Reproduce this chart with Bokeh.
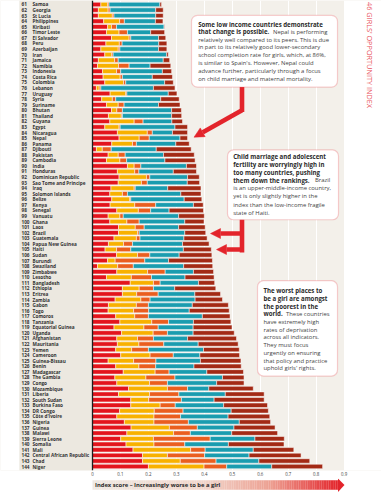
import math
from bokeh.plotting import figure
from bokeh.models import (ColumnDataSource, Range1d, FixedTicker, BoxAnnotation, Label,
                          Arrow, NormalHead, Span)
from bokeh.layouts import column
from bokeh.embed import file_html
from bokeh.resources import INLINE
from bokeh.core.properties import value

# ---------------- data ----------------
ranks = [61, 62, 63, 64, 65, 66, 67, 68, 69, 70, 71, 72, 73, 74, 75, 76, 77, 78, 79, 80,
         81, 82, 83, 84, 85, 86, 87, 88, 89, 90, 91, 92, 93, 94, 95, 96, 97, 98, 99, 100,
         101, 102, 103, 104, 105, 106, 107, 108, 109, 110, 111, 112, 113, 114, 115, 116,
         117, 118, 119, 120, 121, 122, 123, 124, 125, 126, 127, 128, 129, 130, 131, 132,
         133, 134, 135, 136, 137, 138, 139, 140, 141, 142, 143, 144]

countries = ["Samoa", "Georgia", "St Lucia", "Philippines", "Kiribati", "Timor Leste",
             "El Salvador", "Peru", "Azerbaijan", "Iran", "Jamaica", "Namibia", "Indonesia",
             "Costa Rica", "Colombia", "Lebanon", "Uruguay", "Syria", "Suriname", "Bhutan",
             "Thailand", "Guyana", "Egypt", "Nicaragua", "Nepal", "Panama", "Djibouti",
             "Pakistan", "Cambodia", "India", "Honduras", "Dominican Republic",
             "Sao Tome and Principe", "Iraq", "Solomon Islands", "Belize", "Kenya", "Senegal",
             "Vanuatu", "Ghana", "Laos", "Brazil", "Guatemala", "Papua New Guinea", "Haiti",
             "Sudan", "Burundi", "Swaziland", "Zimbabwe", "Lesotho", "Bangladesh", "Ethiopia",
             "Eritrea", "Zambia", "Gabon", "Togo", "Comoros", "Tanzania", "Equatorial Guinea",
             "Uganda", "Afghanistan", "Mauritania", "Yemen", "Cameroon", "Guinea-Bissau",
             "Benin", "Madagascar", "The Gambia", "Congo", "Mozambique", "Liberia",
             "South Sudan", "Burkina Faso", "DR Congo", "Côte d'Ivoire", "Nigeria", "Guinea",
             "Malawi", "Sierra Leone", "Somalia", "Mali", "Central African Republic", "Chad",
             "Niger"]

child_marriage = [0.030, 0.021, 0.021, 0.040, 0.054, 0.050, 0.068, 0.048, 0.030, 0.044,
                  0.021, 0.018, 0.036, 0.038, 0.044, 0.014, 0.063, 0.033, 0.050, 0.068,
                  0.057, 0.062, 0.044, 0.089, 0.095, 0.069, 0.014, 0.056, 0.050, 0.125,
                  0.089, 0.095, 0.092, 0.066, 0.062, 0.069, 0.063, 0.087, 0.056, 0.062,
                  0.093, 0.093, 0.077, 0.057, 0.045, 0.086, 0.054, 0.018, 0.087, 0.050,
                  0.135, 0.107, 0.107, 0.081, 0.057, 0.056, 0.083, 0.098, 0.077, 0.104,
                  0.087, 0.089, 0.083, 0.101, 0.056, 0.083, 0.110, 0.080, 0.087, 0.129,
                  0.093, 0.137, 0.137, 0.097, 0.087, 0.114, 0.138, 0.123, 0.101, 0.120,
                  0.145, 0.179, 0.179, 0.200]

adolescent_fertility = [0.024, 0.035, 0.050, 0.057, 0.014, 0.045, 0.063, 0.048, 0.062, 0.025,
                        0.058, 0.075, 0.050, 0.061, 0.067, 0.010, 0.056, 0.038, 0.042, 0.019,
                        0.046, 0.087, 0.051, 0.107, 0.072, 0.074, 0.021, 0.036, 0.048, 0.024,
                        0.062, 0.098, 0.083, 0.083, 0.045, 0.064, 0.088, 0.077, 0.042, 0.061,
                        0.060, 0.068, 0.080, 0.054, 0.041, 0.075, 0.027, 0.072, 0.110, 0.089,
                        0.083, 0.060, 0.051, 0.092, 0.100, 0.091, 0.068, 0.114, 0.107, 0.113,
                        0.074, 0.077, 0.057, 0.105, 0.091, 0.083, 0.114, 0.111, 0.117, 0.139,
                        0.111, 0.064, 0.105, 0.124, 0.133, 0.106, 0.137, 0.167, 0.117, 0.100,
                        0.206, 0.089, 0.135, 0.199]

maternal_mortality = [0.005, 0.007, 0.006, 0.017, 0.018, 0.030, 0.006, 0.010, 0.006, 0.005,
                      0.013, 0.038, 0.015, 0.008, 0.008, 0.006, 0.004, 0.012, 0.021, 0.020,
                      0.004, 0.032, 0.004, 0.018, 0.036, 0.014, 0.032, 0.025, 0.024, 0.024,
                      0.015, 0.012, 0.021, 0.004, 0.018, 0.004, 0.075, 0.044, 0.012, 0.044,
                      0.032, 0.006, 0.013, 0.032, 0.051, 0.044, 0.106, 0.056, 0.063, 0.072,
                      0.024, 0.051, 0.077, 0.033, 0.043, 0.054, 0.049, 0.060, 0.051, 0.051,
                      0.057, 0.089, 0.060, 0.083, 0.080, 0.060, 0.050, 0.104, 0.064, 0.072,
                      0.105, 0.117, 0.054, 0.103, 0.095, 0.123, 0.100, 0.060, 0.203, 0.110,
                      0.052, 0.133, 0.128, 0.081]

women_in_parliament = [0.182, 0.163, 0.149, 0.111, 0.170, 0.083, 0.099, 0.131, 0.138, 0.191,
                       0.161, 0.075, 0.149, 0.107, 0.139, 0.188, 0.148, 0.161, 0.123, 0.176,
                       0.176, 0.103, 0.196, 0.072, 0.110, 0.141, 0.161, 0.137, 0.137, 0.163,
                       0.123, 0.135, 0.143, 0.116, 0.191, 0.191, 0.135, 0.066, 0.198, 0.163,
                       0.123, 0.163, 0.157, 0.179, 0.188, 0.105, 0.085, 0.180, 0.101, 0.120,
                       0.137, 0.076, 0.131, 0.161, 0.157, 0.145, 0.193, 0.089, 0.125, 0.092,
                       0.122, 0.123, 0.197, 0.095, 0.159, 0.137, 0.135, 0.170, 0.176, 0.076,
                       0.166, 0.117, 0.173, 0.172, 0.170, 0.182, 0.131, 0.148, 0.160, 0.156,
                       0.172, 0.159, 0.153, 0.161]

secondary_not_completed = [0.006, 0.027, 0.027, 0.027, 0.002, 0.050, 0.026, 0.029, 0.030, 0.006,
                           0.023, 0.074, 0.033, 0.072, 0.031, 0.077, 0.031, 0.066, 0.077, 0.035,
                           0.036, 0.038, 0.045, 0.054, 0.027, 0.048, 0.125, 0.110, 0.108, 0.036,
                           0.083, 0.042, 0.044, 0.119, 0.072, 0.063, 0.035, 0.123, 0.092, 0.069,
                           0.095, 0.075, 0.083, 0.095, 0.100, 0.117, 0.157, 0.104, 0.072, 0.104,
                           0.058, 0.147, 0.092, 0.098, 0.129, 0.143, 0.099, 0.134, 0.139, 0.147,
                           0.175, 0.143, 0.128, 0.142, 0.145, 0.169, 0.131, 0.077, 0.098, 0.159,
                           0.139, 0.179, 0.157, 0.133, 0.149, 0.112, 0.147, 0.164, 0.105, 0.199,
                           0.145, 0.186, 0.182, 0.182]

tick_values = [0, 0.1, 0.2, 0.3, 0.4, 0.5, 0.6, 0.7, 0.8, 0.9]
tick_labels = ["0", "0.1", "0.2", "0.3", "0.4", "0.5", "0.6", "0.7", "0.8", "0.9"]

# ---------------- styling ----------------
RED = "#e3141c"
YELLOW = "#f8b100"
ORANGE = "#ea5e1f"
TEAL = "#1a9caf"
DKRED = "#a32a15"
ARROW = "#e3242b"
BOX_LINE = "#e85d65"
PINK_TXT = "#e9525d"
BEIGE = "#f3f0ea"
BEIGE_LBL = "#ece8e0"
TXT = "#333333"
FONT = "Open Sans"

PX = 279.6            # pixels per index unit
W, H1, H2 = 381, 478, 14


def xd(px):            # page-pixel x of the reference -> data x
    return (px - 100.0) / PX


def yr(py):            # reference page-pixel y -> rank coordinate
    return 61 + (py - 4.0) / 5.663


x_left = (8 - 100.0) / PX
x_right = x_left + W / PX

src = ColumnDataSource(dict(
    rank=ranks,
    rank_str=[str(r) for r in ranks],
    country=countries,
    cm=child_marriage,
    af=adolescent_fertility,
    mm=maternal_mortality,
    wp=women_in_parliament,
    sn=secondary_not_completed,
))

p = figure(width=W, height=H1, x_range=Range1d(x_left, x_right),
           y_range=Range1d(144.7186, 60.2814),
           output_backend="svg", toolbar_location=None, y_axis_location=None,
           min_border_left=0, min_border_right=0, min_border_top=0, min_border_bottom=8)
p.background_fill_color = BEIGE
p.border_fill_color = "white"
p.outline_line_color = None
p.ygrid.visible = False
p.xgrid.ticker = FixedTicker(ticks=tick_values[1:])
p.xgrid.grid_line_color = "white"
p.xgrid.grid_line_width = 1

ax = p.xaxis[0]
ax.ticker = FixedTicker(ticks=tick_values)
ax.major_label_overrides = {v: s for v, s in zip(tick_values, tick_labels)}
ax.axis_line_color = None
ax.major_tick_line_color = None
ax.minor_tick_line_color = None
ax.major_tick_out = 0
ax.major_tick_in = 0
ax.major_label_standoff = 1
ax.major_label_text_font = FONT
ax.major_label_text_font_size = "4.4px"
ax.major_label_text_color = "#444444"

# white margins and label column
p.quad(left=[x_left, xd(352.5)], right=[xd(27), x_right], bottom=[144.7186] * 2,
       top=[60.2814] * 2, fill_color="white", line_color=None)
p.quad(left=[xd(27)], right=[0], bottom=[144.7186], top=[60.2814],
       fill_color=BEIGE_LBL, line_color=None)

# stacked bars
p.hbar_stack(["cm", "af", "mm", "wp", "sn"], y="rank", height=0.8,
             fill_color=[RED, YELLOW, ORANGE, TEAL, DKRED],
             line_color="white", line_width=0.5, source=src)

p.add_layout(Span(location=0, dimension="height", line_color="#1e1e1e", line_width=1.3))

# row labels
p.text(x=xd(29), y="rank", text="rank_str", source=src, text_font=value(FONT),
       text_font_style="bold", text_font_size="4.7px", text_baseline="middle",
       text_align="left", text_color=TXT)
p.text(x=xd(40), y="rank", text="country", source=src, text_font=value(FONT),
       text_font_style="bold", text_font_size="4.7px", text_baseline="middle",
       text_align="left", text_color=TXT)

# side title
p.add_layout(Label(x=xd(377.5), y=yr(1.5), text="46 GIRLS' OPPORTUNITY INDEX",
                   angle=-math.pi / 2, text_align="left", text_baseline="middle",
                   text_font=FONT, text_font_size="7.3px", text_color=PINK_TXT))

# arrows
def stem(x0, y0, x1, y1):
    p.add_layout(Arrow(end=None, x_start=x0, y_start=y0, x_end=x1, y_end=y1,
                       line_color=ARROW, line_width=4.6, line_cap="square"))


def pointer(x0, y0, x1, y1):
    p.add_layout(Arrow(end=NormalHead(size=10, fill_color=ARROW, line_color=ARROW,
                                      line_width=0.5),
                       x_start=x0, y_start=y0, x_end=x1, y_end=y1,
                       line_color=ARROW, line_width=4.6))


stem(xd(249.5), yr(86), xd(249.5), yr(111))
pointer(xd(249.5), yr(111.5), xd(201.5), yr(139))
stem(xd(249.5), yr(221), xd(249.5), yr(254))
pointer(xd(251.5), yr(237), xd(218), yr(237))
pointer(xd(251.5), yr(253.3), xd(224), yr(253.3))

# callout boxes
for (l, r, t, b) in [(199, 345, 15, 88), (235, 346, 152, 223), (265, 345, 285, 382)]:
    p.add_layout(BoxAnnotation(left=xd(l), right=xd(r), top=yr(t), bottom=yr(b),
                               fill_color="white", fill_alpha=1, line_color=BOX_LINE,
                               line_width=1.2, border_radius=6))

box1 = [("Some low income countries demonstrate", ""),
        ("that change is possible.", "Nepal is performing"),
        ("", "relatively well compared to its peers. This is due"),
        ("", "in part to its relatively good lower-secondary"),
        ("", "school completion rate for girls, which, at 86%,"),
        ("", "is similar to Spain's. However, Nepal could"),
        ("", "advance further, particularly through a focus"),
        ("", "on child marriage and maternal mortality.")]
box2 = [("Child marriage and adolescent", ""),
        ("fertility are worryingly high in", ""),
        ("too many countries, pushing", ""),
        ("them down the rankings.", "Brazil"),
        ("", "is an upper-middle-income country,"),
        ("", "yet is only slightly higher in the"),
        ("", "index than the low-income fragile"),
        ("", "state of Haiti.")]
box3 = [("The worst places to", ""),
        ("be a girl are amongst", ""),
        ("the poorest in the", ""),
        ("world.", "These countries"),
        ("", "have extremely high"),
        ("", "rates of deprivation"),
        ("", "across all indicators."),
        ("", "They must focus"),
        ("", "urgently on ensuring"),
        ("", "that policy and practice"),
        ("", "uphold girls' rights.")]


def write_box(lines, x0, x_after, y0, pitch):
    for i, (bold, reg) in enumerate(lines):
        y = yr(y0 + i * pitch)
        if bold:
            p.add_layout(Label(x=xd(x0), y=y, text=bold, text_font=FONT,
                               text_font_style="bold", text_font_size="6.1px",
                               text_baseline="middle", text_color="#2a2a2a"))
        if reg:
            xx = x_after if bold else x0
            p.add_layout(Label(x=xd(xx), y=y, text=reg, text_font=FONT,
                               text_font_size="5.9px", text_baseline="middle",
                               text_color="#444444"))


write_box(box1, 205.7, 280.5, 24.0, 7.9)
write_box(box2, 240.7, 322.5, 158.3, 8.2)
write_box(box3, 271.0, 293.5, 295.0, 7.93)

# ---------------- bottom gradient arrow ----------------
p2 = figure(width=W, height=H2, x_range=p.x_range, y_range=Range1d(0, H2),
            output_backend="svg", toolbar_location=None, x_axis_location=None,
            y_axis_location=None, min_border=0)
p2.outline_line_color = None
p2.background_fill_color = "white"
p2.border_fill_color = "white"
p2.grid.visible = False

stops = [(0.0, (239, 232, 225)), (0.45, (240, 213, 202)), (0.72, (237, 160, 146)),
         (1.0, (227, 36, 43))]


def grad(t):
    for (t0, c0), (t1, c1) in zip(stops[:-1], stops[1:]):
        if t0 <= t <= t1:
            f = (t - t0) / (t1 - t0)
            return "#%02x%02x%02x" % tuple(int(round(a + (b - a) * f)) for a, b in zip(c0, c1))
    return "#e3242b"


n = 140
x_end_body = xd(346.5)
lefts = [x_end_body * i / n for i in range(n)]
rights = [x_end_body * (i + 1) / n + 0.0005 for i in range(n)]
cols = [grad((i + 0.5) / n) for i in range(n)]
p2.quad(left=lefts, right=rights, bottom=2.8, top=12.3, fill_color=cols, line_color=None)
p2.patch(x=[xd(345.5), xd(352), xd(345.5)], y=[0.6, 7.55, 14.0], fill_color=ARROW,
         line_color=None)
p2.text(x=[xd(102.5)], y=[7.9], text=["Index score – Increasingly worse to be a girl"],
        text_font=value(FONT), text_font_style="bold", text_font_size="5.8px",
        text_baseline="middle", text_align="left", text_color="#2a2a2a")

layout = column(p, p2, spacing=0)
open("out.html", "w").write(file_html(layout, INLINE))
